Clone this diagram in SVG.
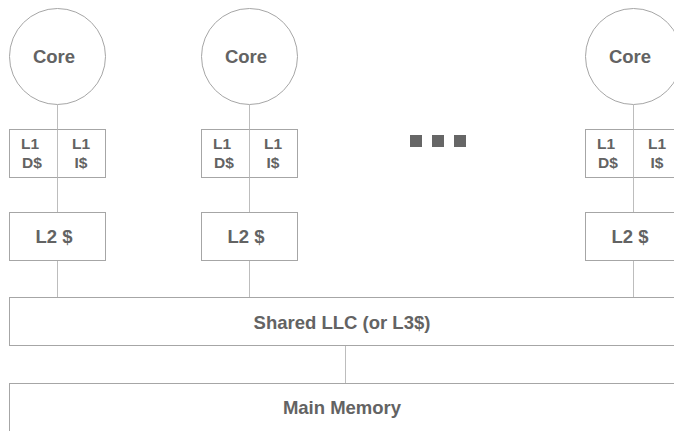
<svg xmlns="http://www.w3.org/2000/svg" width="674" height="431" viewBox="0 0 674 431">
<style>
.box{fill:#fff;stroke:#a6a6a6;stroke-width:1}
.ln{stroke:#bdbdbd;stroke-width:1;fill:none}
.t{font-family:"Liberation Sans",Arial,sans-serif;font-weight:bold;fill:#636363;text-anchor:middle}
.big{font-size:18.5px}
.sm{font-size:15.5px}
.dot{fill:#666}
</style>
<rect width="674" height="431" fill="#fff"/>
<g id="connectors">
<line class="ln" x1="57.5" y1="105" x2="57.5" y2="297"/>
<line class="ln" x1="249.5" y1="105" x2="249.5" y2="297"/>
<line class="ln" x1="633.5" y1="105" x2="633.5" y2="297"/>
<line class="ln" x1="345.5" y1="346" x2="345.5" y2="383"/>
</g>
<g id="core1">
<circle class="box" cx="57.5" cy="56.5" r="48"/>
<text class="t big" x="54" y="62.5">Core</text>
</g>
<g id="l1_1">
<rect class="box" x="9.5" y="129.5" width="96" height="48"/>
<line class="ln" x1="57.5" y1="129.5" x2="57.5" y2="177.5"/>
<text class="t sm" x="30" y="148.5">L1</text><text class="t sm" x="32" y="168">D$</text>
<text class="t sm" x="81" y="148.5">L1</text><text class="t sm" x="81" y="168">I$</text>
</g>
<g id="l2_1">
<rect class="box" x="9.5" y="212.5" width="96" height="48"/>
<text class="t big" x="54" y="242.5">L2 $</text>
</g>
<g id="core2">
<circle class="box" cx="249.5" cy="56.5" r="48"/>
<text class="t big" x="246" y="62.5">Core</text>
</g>
<g id="l1_2">
<rect class="box" x="201.5" y="129.5" width="96" height="48"/>
<line class="ln" x1="249.5" y1="129.5" x2="249.5" y2="177.5"/>
<text class="t sm" x="222" y="148.5">L1</text><text class="t sm" x="224" y="168">D$</text>
<text class="t sm" x="273" y="148.5">L1</text><text class="t sm" x="273" y="168">I$</text>
</g>
<g id="l2_2">
<rect class="box" x="201.5" y="212.5" width="96" height="48"/>
<text class="t big" x="246" y="242.5">L2 $</text>
</g>
<g id="ellipsis">
<rect class="dot" x="410" y="135" width="12" height="12"/>
<rect class="dot" x="432" y="135" width="12" height="12"/>
<rect class="dot" x="454" y="135" width="12" height="12"/>
</g>
<g id="core3">
<circle class="box" cx="633.5" cy="56.5" r="48"/>
<text class="t big" x="630" y="62.5">Core</text>
</g>
<g id="l1_3">
<rect class="box" x="585.5" y="129.5" width="96" height="48"/>
<line class="ln" x1="633.5" y1="129.5" x2="633.5" y2="177.5"/>
<text class="t sm" x="606" y="148.5">L1</text><text class="t sm" x="608" y="168">D$</text>
<text class="t sm" x="657" y="148.5">L1</text><text class="t sm" x="657" y="168">I$</text>
</g>
<g id="l2_3">
<rect class="box" x="585.5" y="212.5" width="96" height="48"/>
<text class="t big" x="630" y="242.5">L2 $</text>
</g>
<g id="llc">
<rect class="box" x="9.5" y="297.5" width="680" height="48"/>
<text class="t big" x="342" y="328.5">Shared LLC (or L3$)</text>
</g>
<g id="mem">
<rect class="box" x="9.5" y="383.5" width="680" height="60"/>
<text class="t big" x="342" y="413.5">Main Memory</text>
</g>
</svg>
